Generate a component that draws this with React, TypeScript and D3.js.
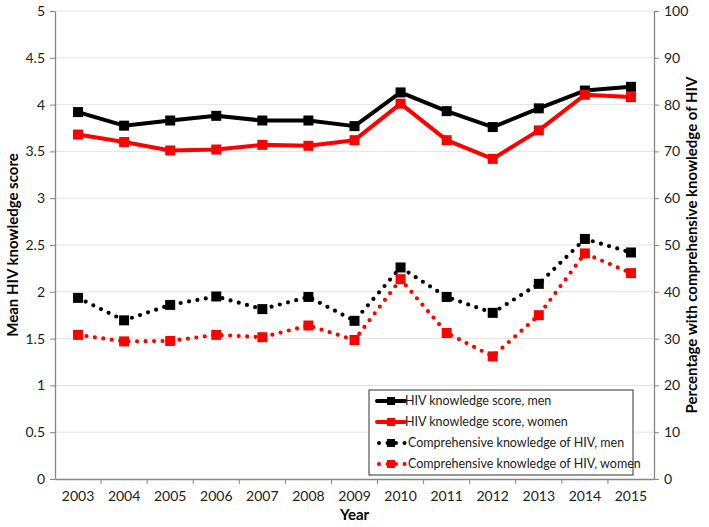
import {useEffect, useRef} from "react";
import * as d3 from "d3";

const years = ["2003", "2004", "2005", "2006", "2007", "2008", "2009", "2010", "2011", "2012", "2013", "2014", "2015"];
const scoreMen = [3.92, 3.775, 3.83, 3.88, 3.83, 3.83, 3.77, 4.13, 3.93, 3.76, 3.96, 4.15, 4.19];
const scoreWomen = [3.68, 3.60, 3.51, 3.52, 3.57, 3.56, 3.62, 4.01, 3.62, 3.42, 3.725, 4.105, 4.08];
const compMen = [38.7, 33.9, 37.2, 39.0, 36.3, 38.9, 33.8, 45.2, 38.9, 35.5, 41.7, 51.3, 48.4];
const compWomen = [30.8, 29.4, 29.5, 30.8, 30.3, 32.8, 29.7, 42.7, 31.2, 26.2, 35.0, 48.2, 44.0];
const leftTicks = [0, 0.5, 1, 1.5, 2, 2.5, 3, 3.5, 4, 4.5, 5];
const rightTicks = [0, 10, 20, 30, 40, 50, 60, 70, 80, 90, 100];

interface Series {
    label: string;
    values: number[];
    axis: "left" | "right";
    color: string;
    dotted: boolean;
}

const series: Series[] = [
    {label: "HIV knowledge score, men", values: scoreMen, axis: "left", color: "#000000", dotted: false},
    {label: "HIV knowledge score, women", values: scoreWomen, axis: "left", color: "#ff0000", dotted: false},
    {label: "Comprehensive knowledge of HIV, men", values: compMen, axis: "right", color: "#000000", dotted: true},
    {label: "Comprehensive knowledge of HIV, women", values: compWomen, axis: "right", color: "#ff0000", dotted: true},
];

const width = 709;
const height = 527;
const margin = {top: 11, right: 55, bottom: 48, left: 55};
const font = "Lato, 'Open Sans', sans-serif";

const App = () => {
    const svgRef = useRef<SVGSVGElement | null>(null);

    useEffect(() => {
        const svg = d3.select(svgRef.current);
        svg.selectAll("*").remove();

        const x = d3.scaleBand<string>().domain(years).range([margin.left, width - margin.right]);
        const yLeft = d3.scaleLinear().domain([0, 5]).range([height - margin.bottom, margin.top]);
        const yRight = d3.scaleLinear().domain([0, 100]).range([height - margin.bottom, margin.top]);
        const bottom = height - margin.bottom;

        // gridlines
        svg.append("g")
            .selectAll("line")
            .data(leftTicks.slice(1))
            .enter()
            .append("line")
            .attr("x1", margin.left)
            .attr("x2", width - margin.right)
            .attr("y1", d => yLeft(d))
            .attr("y2", d => yLeft(d))
            .attr("stroke", "#e4e4e4")
            .attr("stroke-width", 1);

        const styleAxis = (g: d3.Selection<SVGGElement, unknown, null, undefined>) => {
            g.selectAll(".domain").attr("stroke", "#868686").attr("stroke-width", 1.3);
            g.selectAll(".tick line").attr("stroke", "#868686");
            g.selectAll(".tick text").attr("fill", "#222").style("font-family", font).style("font-size", "14px");
        };

        const leftG = svg.append("g")
            .attr("transform", `translate(${margin.left},0)`)
            .call(d3.axisLeft(yLeft).tickValues(leftTicks).tickSize(5).tickSizeOuter(0).tickPadding(5).tickFormat(d => String(d)));
        styleAxis(leftG);

        const rightG = svg.append("g")
            .attr("transform", `translate(${width - margin.right},0)`)
            .call(d3.axisRight(yRight).tickValues(rightTicks).tickSize(5).tickSizeOuter(0).tickPadding(5).tickFormat(d => String(d)));
        styleAxis(rightG);

        const xG = svg.append("g")
            .attr("transform", `translate(0,${bottom})`)
            .call(d3.axisBottom(x).tickSize(0).tickPadding(12));
        styleAxis(xG);
        // ticks between categories
        xG.selectAll(".sep")
            .data(years.slice(1))
            .enter()
            .append("line")
            .attr("x1", d => x(d)!)
            .attr("x2", d => x(d)!)
            .attr("y1", 0)
            .attr("y2", 5)
            .attr("stroke", "#868686");

        // lines
        series.forEach(s => {
            const yS = s.axis === "left" ? yLeft : yRight;
            const line = d3.line<number>()
                .x((_, i) => x(years[i])! + x.bandwidth() / 2)
                .y(d => yS(d));
            svg.append("path")
                .datum(s.values)
                .attr("d", line)
                .attr("fill", "none")
                .attr("stroke", s.color)
                .attr("stroke-width", s.dotted ? 4.2 : 4)
                .attr("stroke-linecap", "round")
                .attr("stroke-linejoin", "round")
                .attr("stroke-dasharray", s.dotted ? "0 8.5" : null);
            svg.append("g")
                .selectAll("rect")
                .data(s.values)
                .enter()
                .append("rect")
                .attr("x", (_, i) => x(years[i])! + x.bandwidth() / 2 - 5)
                .attr("y", d => yS(d) - 5)
                .attr("width", 10)
                .attr("height", 10)
                .attr("fill", s.color);
        });

        // axis titles
        svg.append("text")
            .attr("transform", `translate(18,${(margin.top + bottom) / 2}) rotate(-90)`)
            .attr("text-anchor", "middle")
            .style("font-family", font)
            .style("font-size", "15px")
            .style("font-weight", "bold")
            .text("Mean HIV knowledge score");
        svg.append("text")
            .attr("transform", `translate(697,${(margin.top + bottom) / 2}) rotate(-90)`)
            .attr("text-anchor", "middle")
            .style("font-family", font)
            .style("font-size", "15px")
            .style("font-weight", "bold")
            .text("Percentage with comprehensive knowledge of HIV");
        svg.append("text")
            .attr("x", (margin.left + width - margin.right) / 2)
            .attr("y", 520)
            .attr("text-anchor", "middle")
            .style("font-family", font)
            .style("font-size", "15px")
            .style("font-weight", "bold")
            .text("Year");

        // legend
        const legend = svg.append("g").attr("transform", "translate(369,390)");
        legend.append("rect")
            .attr("width", 264)
            .attr("height", 85)
            .attr("fill", "white")
            .attr("stroke", "#333")
            .attr("stroke-width", 1);
        series.forEach((s, i) => {
            const cy = 11 + i * 21;
            legend.append("line")
                .attr("x1", s.dotted ? 10 : 8)
                .attr("x2", s.dotted ? 36 : 36)
                .attr("y1", cy)
                .attr("y2", cy)
                .attr("stroke", s.color)
                .attr("stroke-width", 4)
                .attr("stroke-linecap", "round")
                .attr("stroke-dasharray", s.dotted ? "0 8.5" : null);
            legend.append("rect")
                .attr("x", 18)
                .attr("y", cy - 4)
                .attr("width", 8)
                .attr("height", 8)
                .attr("fill", s.color);
            legend.append("text")
                .attr("x", s.dotted ? 39 : 36)
                .attr("y", cy)
                .attr("dy", "0.35em")
                .style("font-family", font)
                .style("font-size", "12.5px")
                .attr("fill", "#222")
                .text(s.label);
        });
    }, []);

    return <svg ref={svgRef} width={width} height={height} style={{position: "absolute", left: 0, top: 0}}></svg>;
};

export default App;
